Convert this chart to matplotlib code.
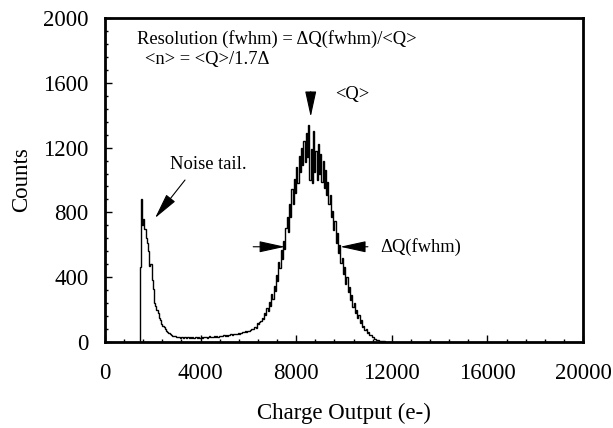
import numpy as np
import matplotlib
matplotlib.use("Agg")
import matplotlib.pyplot as plt
from matplotlib.ticker import MultipleLocator

# =====================================
# Data: charge histogram, 50 e- bins from 1450 e-
# =====================================
bin_start = 1450
bin_width = 50

noise_counts = [465, 880, 720, 760, 700, 640, 610, 560, 470, 480,
                380, 330, 240, 220, 200, 180, 150, 135, 110, 100,
                90, 80, 70, 62, 55, 50, 45, 40, 38, 36, 32]
flat_counts = [30, 28, 33, 27, 30, 26, 31, 29, 25, 30,
               27, 32, 26, 29, 24, 31, 28, 26, 33, 27,
               30, 25, 31, 28, 34, 27, 30, 36, 29, 33,
               28, 35, 31, 37, 33, 39, 35, 40, 37, 42]
peak_counts = [39, 44, 40, 46, 42, 48, 45, 50, 47, 52,
               49, 55, 52, 58, 55, 62, 60, 66, 63, 70,
               67, 74, 78, 82, 80, 92, 88, 115, 110, 125,
               130, 150, 140, 180, 165, 210, 190, 245, 225, 295,
               265, 345, 315, 415, 375, 495, 455, 565, 515, 625,
               575, 705, 770, 680, 855, 770, 945, 850, 1005, 920,
               1080, 980, 1150, 1050, 1200, 1090, 1240, 1110, 1290, 1140,
               1340, 1000, 1190, 980, 1300, 1050, 1180, 1000, 1220, 1040,
               1160, 990, 1120, 950, 1060, 910, 990, 850, 910, 770,
               810, 690, 750, 610, 670, 550, 600, 490, 520, 420,
               460, 360, 400, 310, 340, 260, 290, 215, 240, 180,
               200, 150, 165, 120, 135, 95, 100, 75, 80, 58,
               60, 43, 44, 30, 32, 21, 21, 14, 13, 9,
               8, 6, 5, 4, 3, 2, 1, 1, 0]

counts = np.array(noise_counts + flat_counts + peak_counts, dtype=float)
edges = bin_start + bin_width * np.arange(len(counts) + 1)

# =====================================
# Plot
# =====================================
plt.rcParams['font.family'] = ['Liberation Serif', 'DejaVu Serif']

fig = plt.figure(figsize=(6.13, 4.28), dpi=100)
ax = fig.add_subplot(111)
fig.subplots_adjust(left=0.1713, right=0.9511, bottom=0.2009, top=0.9579)

ax.stairs(counts, edges, color='black', linewidth=1.0, baseline=0)

ax.set_xlim(0, 20000)
ax.set_ylim(0, 2000)
ax.xaxis.set_major_locator(MultipleLocator(4000))
ax.xaxis.set_minor_locator(MultipleLocator(800))
ax.yaxis.set_major_locator(MultipleLocator(400))
ax.yaxis.set_minor_locator(MultipleLocator(80))
ax.tick_params(which='both', direction='in', top=False, right=False,
               labelsize=16.5, width=1)
ax.tick_params(which='major', length=5)
ax.tick_params(which='minor', length=2.5)
ax.tick_params(axis='x', pad=15)
ax.tick_params(axis='y', pad=12)
for sp in ax.spines.values():
    sp.set_linewidth(2)

ax.set_xlabel('Charge Output (e-)', fontsize=16.5, labelpad=14)
ax.set_ylabel('Counts', fontsize=16.5, labelpad=8)

# annotations
fs = 13.3
ax.text(1340, 1868, 'Resolution (fwhm) = \u0394Q(fwhm)/<Q>', fontsize=fs, va='center')
ax.text(1670, 1745, '<n> = <Q>/1.7\u0394', fontsize=fs, va='center')
ax.text(9620, 1525, '<Q>', fontsize=fs, va='center')
ax.text(2720, 1093, 'Noise tail.', fontsize=fs, va='center')
ax.text(11506, 586, '\u0394Q(fwhm)', fontsize=fs, va='center')

arrow = dict(arrowstyle='-|>,head_length=1.6,head_width=0.35', mutation_scale=10,
             color='black', linewidth=0.8, shrinkA=0, shrinkB=0)
ax.annotate('', xy=(8607, 1390), xytext=(8607, 1545), arrowprops=arrow)
ax.annotate('', xy=(7530, 588), xytext=(6200, 588), arrowprops=arrow)
ax.annotate('', xy=(9840, 588), xytext=(11000, 588), arrowprops=arrow)
ax.annotate('', xy=(2092, 765), xytext=(3347, 1000), arrowprops=arrow)

plt.savefig('out.png', dpi=100)
